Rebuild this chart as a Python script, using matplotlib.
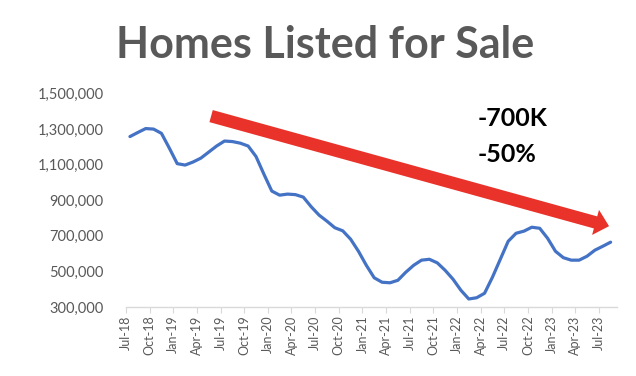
import matplotlib
matplotlib.use("Agg")
import matplotlib.pyplot as plt
from matplotlib.ticker import FuncFormatter

# ---- data (monthly, Jul-2018 .. Aug-2023) ----
months = ["Jul-18", "Aug-18", "Sep-18", "Oct-18", "Nov-18", "Dec-18",
          "Jan-19", "Feb-19", "Mar-19", "Apr-19", "May-19", "Jun-19",
          "Jul-19", "Aug-19", "Sep-19", "Oct-19", "Nov-19", "Dec-19",
          "Jan-20", "Feb-20", "Mar-20", "Apr-20", "May-20", "Jun-20",
          "Jul-20", "Aug-20", "Sep-20", "Oct-20", "Nov-20", "Dec-20",
          "Jan-21", "Feb-21", "Mar-21", "Apr-21", "May-21", "Jun-21",
          "Jul-21", "Aug-21", "Sep-21", "Oct-21", "Nov-21", "Dec-21",
          "Jan-22", "Feb-22", "Mar-22", "Apr-22", "May-22", "Jun-22",
          "Jul-22", "Aug-22", "Sep-22", "Oct-22", "Nov-22", "Dec-22",
          "Jan-23", "Feb-23", "Mar-23", "Apr-23", "May-23", "Jun-23",
          "Jul-23", "Aug-23"]
listings = [1257000, 1280000, 1302000, 1299000, 1275000, 1192000,
            1105000, 1097000, 1114000, 1136000, 1170000, 1204000,
            1232000, 1229000, 1220000, 1204000, 1145000, 1046000,
            951000, 928000, 934000, 931000, 917000, 863000,
            816000, 782000, 745000, 728000, 681000, 613000,
            534000, 464000, 439000, 436000, 450000, 495000,
            534000, 563000, 568000, 548000, 506000, 456000,
            394000, 345000, 352000, 377000, 467000, 568000,
            669000, 714000, 726000, 748000, 742000, 686000,
            613000, 577000, 563000, 563000, 585000, 619000,
            641000, 664000]
y_ticks = [300000, 500000, 700000, 900000, 1100000, 1300000, 1500000]
title = "Homes Listed for Sale"
note_lines = ["-700K", "-50%"]
# trend arrow endpoints (month index, value)
arrow_start = (10.8, 1372000)
arrow_end = (61.3, 754000)

FONT = ["Lato", "DejaVu Sans"]
GRAY = "#595959"

fig = plt.figure(figsize=(6.36, 3.76), dpi=100)
ax = fig.add_axes([126/636, 1-307/376, (617-126)/636, (307-93.3)/376])

x = [i + 0.5 for i in range(len(months))]
ax.plot(x, listings, color="#4472C4", lw=2.3, solid_capstyle="round",
        solid_joinstyle="round")

ax.set_ylim(y_ticks[0], y_ticks[-1])
ax.set_yticks(y_ticks)
ax.yaxis.set_major_formatter(FuncFormatter(lambda v, p: f"{int(v):,}"))
ax.set_xlim(0, (617-126)/7.88)
tick_pos = list(range(0, len(months), 3))
ax.set_xticks(tick_pos)
ax.set_xticklabels([months[i] for i in tick_pos], rotation=90)

for s in ["top", "right", "left"]:
    ax.spines[s].set_visible(False)
ax.spines["bottom"].set_color("#d9d9d9")
ax.spines["bottom"].set_linewidth(1.0)
ax.tick_params(axis="y", length=0, pad=16, labelsize=10.5, labelcolor=GRAY)
ax.tick_params(axis="x", length=4, color="#d9d9d9", pad=2, labelsize=9,
               labelcolor=GRAY)
for lab in ax.get_xticklabels() + ax.get_yticklabels():
    lab.set_family(FONT)

fig.text(325/636, 1-45/376, title, ha="center", va="center", fontsize=31,
         fontweight="bold", color=GRAY, family=FONT)

ax.annotate("", xy=arrow_end, xytext=arrow_start, xycoords="data",
            arrowprops=dict(arrowstyle="simple,head_length=1.4,head_width=2.6,tail_width=1.25",
                            mutation_scale=7.2, color="#E8322A", lw=0,
                            shrinkA=0, shrinkB=0),
            annotation_clip=False)

fig.text(478/636, 1-118/376, note_lines[0], ha="left", va="center",
         fontsize=18, fontweight="bold", color="black", family=FONT)
fig.text(478/636, 1-155/376, note_lines[1], ha="left", va="center",
         fontsize=18, fontweight="bold", color="black", family=FONT)

fig.savefig("out.png", dpi=100, facecolor="white")
